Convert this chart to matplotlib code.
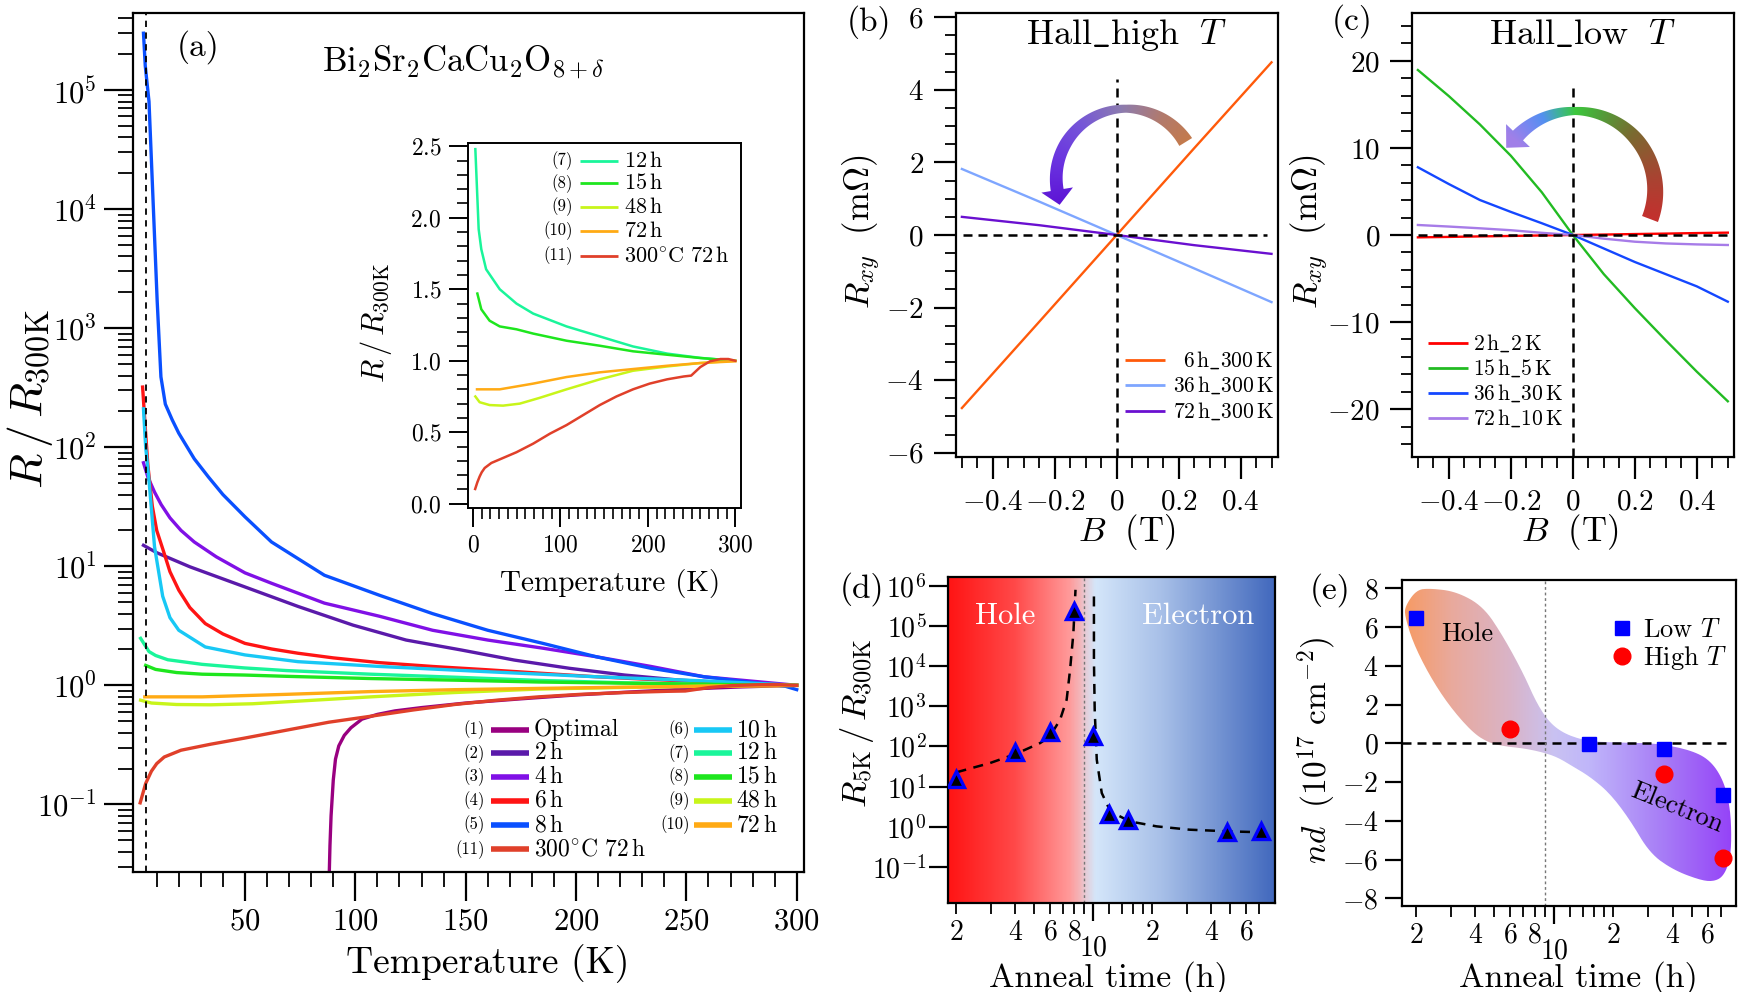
import numpy as np
import matplotlib
matplotlib.use("Agg")
import matplotlib.pyplot as plt
from matplotlib.colors import LinearSegmentedColormap, to_rgb
from matplotlib.patches import Polygon
from matplotlib.path import Path
from matplotlib.ticker import (FixedLocator, FixedFormatter, MultipleLocator,
                               FuncFormatter, LogLocator, NullLocator, NullFormatter,
                               LogFormatterSciNotation)

plt.rcParams.update({
    "font.family": "serif",
    "font.serif": ["cmr10"],
    "mathtext.fontset": "cm",
    "axes.formatter.use_mathtext": True,
    "axes.unicode_minus": False,
})

# ---------------- (a) R/R300K vs temperature ----------------
opt_T = [88.2, 88.5, 89, 90, 91, 92.5, 95, 98, 103, 110, 118, 130, 150, 175, 200, 225, 250, 275, 300]
opt_R = [0.027, 0.045, 0.08, 0.16, 0.24, 0.31, 0.38, 0.44, 0.52, 0.57, 0.61, 0.65, 0.71, 0.77, 0.83, 0.88, 0.93, 0.97, 1.0]
h2_T = [4, 10, 25, 50, 74, 99, 123, 148, 172, 197, 222, 246, 271, 300]
h2_R = [15, 13, 9.9, 6.7, 4.6, 3.2, 2.4, 1.98, 1.63, 1.39, 1.22, 1.11, 1.04, 1.0]
h4_T = [4, 6, 9, 12, 16, 21, 27, 37, 50, 62, 86, 111, 135, 160, 185, 209, 234, 258, 283, 300]
h4_R = [74, 56, 42, 33, 25.5, 20, 16, 12, 8.8, 7.2, 4.9, 3.8, 2.9, 2.4, 2.05, 1.74, 1.44, 1.18, 1.07, 1.0]
h6_T = [3.6, 5, 6, 8, 10, 13, 16, 20, 25, 32, 40, 50, 62, 74, 90, 111, 135, 160, 185, 209, 234, 258, 300]
h6_R = [320, 130, 70, 32, 20, 13.5, 9, 6.3, 4.5, 3.3, 2.7, 2.25, 2.02, 1.86, 1.70, 1.55, 1.44, 1.35, 1.26, 1.18, 1.12, 1.07, 1.0]
h8_T = [4, 4.8, 6.5, 7.7, 10.2, 11.9, 13.9, 17, 20, 27, 33.5, 40, 50, 62, 86, 111, 135, 160, 185, 209, 234, 258, 283, 295, 300]
h8_R = [3e5, 1.6e5, 8e4, 2.3e4, 1.7e3, 390, 230, 170, 131, 80, 56, 40, 26, 16, 8.4, 5.7, 4.0, 2.9, 2.25, 1.74, 1.39, 1.18, 1.04, 0.98, 0.92]
h10_T = [4, 5, 6.5, 9, 12.7, 16, 20, 32, 50, 74, 111, 160, 209, 258, 300]
h10_R = [210, 100, 53, 14.6, 5.6, 3.7, 2.9, 2.1, 1.8, 1.58, 1.44, 1.30, 1.18, 1.09, 1.0]
h12_T = [2.7, 6.5, 9.5, 15, 30.6, 49.7, 68.8, 107, 145, 183, 222, 260, 298]
h12_R = [2.48, 1.92, 1.78, 1.64, 1.50, 1.40, 1.33, 1.24, 1.17, 1.10, 1.05, 1.02, 1.0]
h15_T = [5, 9.5, 19, 30.6, 49.7, 68.8, 107, 145, 183, 222, 260, 300]
h15_R = [1.47, 1.36, 1.28, 1.24, 1.22, 1.19, 1.14, 1.105, 1.066, 1.042, 1.019, 1.0]
h48_T = [2.7, 7.6, 19, 34.4, 53.5, 76, 107, 145, 183, 222, 260, 300]
h48_R = [0.75, 0.71, 0.69, 0.686, 0.70, 0.74, 0.80, 0.87, 0.93, 0.96, 0.984, 1.0]
h72_T = [4.6, 30.6, 49.7, 68.8, 107, 145, 183, 222, 260, 300]
h72_R = [0.80, 0.80, 0.82, 0.84, 0.886, 0.919, 0.942, 0.965, 0.984, 0.996]
c300_T = [2.5, 5, 7.6, 10, 13.4, 21, 34.4, 49.7, 68.8, 88, 107, 126, 145, 164, 183, 202, 222, 241, 249.5, 260, 271, 283, 292, 300]
c300_R = [0.103, 0.15, 0.19, 0.22, 0.25, 0.285, 0.32, 0.36, 0.42, 0.49, 0.55, 0.62, 0.69, 0.75, 0.80, 0.84, 0.87, 0.89, 0.896, 0.956, 0.996, 1.012, 1.012, 1.0]

labels_a = ["Optimal", r"$\mathrm{2\,h}$", r"$\mathrm{4\,h}$", r"$\mathrm{6\,h}$", r"$\mathrm{8\,h}$",
            r"$\mathrm{10\,h}$", r"$\mathrm{12\,h}$", r"$\mathrm{15\,h}$", r"$\mathrm{48\,h}$",
            r"$\mathrm{72\,h}$", r"$300^{\circ}\mathrm{C}\ 72\,\mathrm{h}$"]
colors_a = ["#990080", "#5a1aaa", "#8010e6", "#ff1414", "#0a50ff", "#18c8f5",
            "#1af59a", "#1ee61e", "#c8f51a", "#ffaa14", "#e0402a"]
curves_a = [(opt_T, opt_R), (h2_T, h2_R), (h4_T, h4_R), (h6_T, h6_R), (h8_T, h8_R),
            (h10_T, h10_R), (h12_T, h12_R), (h15_T, h15_R), (h48_T, h48_R),
            (h72_T, h72_R), (c300_T, c300_R)]
inset_idx = [6, 7, 8, 9, 10]

# ---------------- (b), (c) Hall ----------------
b_high = [-0.5, -0.25, 0, 0.25, 0.5]
rxy_6h = [-4.77, -2.39, 0, 2.39, 4.76]
rxy_36h = [1.82, 0.92, 0, -0.92, -1.85]
rxy_72h = [0.50, 0.27, 0, -0.28, -0.52]
labels_b = [r"$\mathrm{6\,h\_300\,K}$", r"$\mathrm{36\,h\_300\,K}$", r"$\mathrm{72\,h\_300\,K}$"]
colors_b = ["#ff5a0a", "#7ea6ff", "#6a10d0"]

b_low = [-0.5, -0.4, -0.3, -0.2, -0.1, 0, 0.1, 0.2, 0.3, 0.4, 0.5]
rxy_2h = [-0.27, -0.22, -0.16, -0.11, -0.05, 0, 0.05, 0.11, 0.16, 0.22, 0.27]
rxy_15h = [18.95, 15.95, 12.7, 9.1, 4.9, 0, -4.5, -8.4, -12.1, -15.7, -19.1]
rxy_36h_lo = [7.78, 5.85, 4.02, 2.65, 1.35, 0, -1.55, -3.1, -4.5, -5.9, -7.66]
rxy_72h_lo = [1.15, 0.97, 0.77, 0.55, 0.25, 0, -0.42, -0.77, -0.97, -1.08, -1.15]
labels_c = [r"$\mathrm{2\,h\_2\,K}$", r"$\mathrm{15\,h\_5\,K}$", r"$\mathrm{36\,h\_30\,K}$", r"$\mathrm{72\,h\_10\,K}$"]
colors_c = ["#ff0000", "#22bb22", "#1447ff", "#a77ce8"]

# ---------------- (d) R5K/R300K vs anneal time ----------------
anneal_h = [2, 4, 6, 8, 10, 12, 15, 48, 72]
r5k_ratio = [15.8, 73, 233, 2.4e5, 186, 2.13, 1.51, 0.76, 0.80]
fit_hole_t = [2.0, 2.97, 4.01, 5.35, 6.0, 6.76, 7.3, 7.6, 7.9, 8.1]
fit_hole_r = [22.8, 38.8, 65, 122, 179, 465, 1460, 8130, 6.6e4, 7.9e5]
fit_elec_t = [10.06, 10.06, 10.15, 10.4, 11.03, 12.2, 15.3, 21.0, 30.9, 48.9, 73.6]
fit_elec_r = [5.4e5, 1.45e4, 822, 47, 6.95, 2.43, 1.37, 1.03, 0.851, 0.774, 0.731]

# ---------------- (e) nd vs anneal time ----------------
lowT_t = [2, 15, 36, 72]
lowT_nd = [6.45, -0.05, -0.29, -2.67]
highT_t = [6, 36, 72]
highT_nd = [0.72, -1.6, -5.9]
blob_t = [1.76, 2.01, 2.36, 3.21, 4.39, 5.54, 7.0, 8.17, 9.55, 11.6, 15.2, 22.4, 33.1, 48.9, 61.7,
          72.1, 78, 79.4, 78, 72.1, 64.1, 54.9, 40.3, 30.6, 24.3, 19.2, 15.2, 12.5, 10.3, 8.49,
          7.0, 5.75, 4.74, 3.9, 2.97, 2.36, 1.94, 1.76]
blob_nd = [7.06, 7.92, 8.0, 7.83, 7.06, 5.51, 3.61, 2.07, 1.03, 0.43, 0.09, 0.03, 0.0, -0.34, -0.86,
           -1.89, -3.27, -4.82, -6.02, -6.88, -7.14, -7.06, -6.54, -5.68, -3.96, -2.58, -1.72, -1.2,
           -0.69, -0.43, -0.26, -0.17, 0.0, 0.52, 1.89, 3.44, 5.16, 6.54]

W, H = 1738, 992
fig = plt.figure(figsize=(W / 100, H / 100), dpi=100)


def rect(l, t, r, b):
    return [l / W, 1 - b / H, (r - l) / W, (b - t) / H]


def frame(ax, lw=1.6):
    for s in ax.spines.values():
        s.set_linewidth(lw)
    ax.tick_params(which="both", direction="out", top=False, right=False)


def gfmt(v, p):
    return "$%g$" % (round(v, 6) + 0.0)


def place_labels(ax, box, xl, yl):
    l, t, r, b = box
    ax.xaxis.set_label_coords((xl[0] - l) / (r - l), (b - xl[1]) / (b - t))
    ax.yaxis.set_label_coords((yl[0] - l) / (r - l), (b - yl[1]) / (b - t))
    ax.xaxis.label.set_va("center")
    ax.yaxis.label.set_va("center")


def legend_row(ax, fy, x0, x1, xt, color, label, lw, fs, num=None, xn=None, fsn=12, ha="left"):
    ax.plot([x0, x1], [fy, fy], transform=ax.transAxes, color=color, lw=lw, solid_capstyle="butt")
    ax.text(xt, fy, label, transform=ax.transAxes, ha=ha, va="center", fontsize=fs)
    if num is not None:
        ax.text(xn, fy, num, transform=ax.transAxes, ha="right", va="center", fontsize=fsn)


def gradient_cmap(stops):
    return LinearSegmentedColormap.from_list("g", stops)


def curved_arrow(box, center, r, th0, th1, widths, head_w, head_len, stops):
    l, t, rr, b = box
    w, h = int(round(rr - l)), int(round(b - t))
    ov = fig.add_axes(rect(l, t, rr, b), zorder=3)
    ov.set_axis_off()
    cx, cy = center
    th = np.linspace(th0, th1, 90)
    wd = np.interp(th, [q[0] for q in widths], [q[1] for q in widths])
    rad = np.radians(th)
    outer = np.c_[cx + (r + wd / 2) * np.cos(rad), cy + (r + wd / 2) * np.sin(rad)]
    inner = np.c_[cx + (r - wd / 2) * np.cos(rad), cy + (r - wd / 2) * np.sin(rad)]
    a1 = np.radians(th1)
    u = np.array([np.cos(a1), np.sin(a1)])
    tv = np.array([-np.sin(a1), np.cos(a1)])
    base = np.array([cx, cy]) + r * u
    tip = base + head_len * tv
    verts = np.vstack([outer, base + head_w / 2 * u, tip, base - head_w / 2 * u, inner[::-1]])
    X, Y = np.meshgrid(np.arange(w) + 0.5, np.arange(h) + 0.5)
    phi = np.degrees(np.arctan2(Y - cy, X - cx))
    phi = (phi - (th0 - 90)) % 360 + (th0 - 90)
    sa = [s[0] for s in stops]
    rgb = np.array([to_rgb(s[1]) for s in stops])
    img = np.dstack([np.interp(phi, sa, rgb[:, k]) for k in range(3)])
    im = ov.imshow(img, origin="lower", extent=(0, w, 0, h), aspect="auto", interpolation="bilinear")
    ov.set_xlim(0, w)
    ov.set_ylim(0, h)
    im.set_clip_path(Polygon(verts, closed=True, transform=ov.transData))


# ======================= panel (a) =======================
box_a = (133, 13, 804, 872)
ax_a = fig.add_axes(rect(*box_a))
frame(ax_a)
ax_a.set_yscale("log")
for (T, R), c in zip(curves_a, colors_a):
    ax_a.plot(T, R, color=c, lw=2.4)
ax_a.axvline(5, color="k", lw=1.3, ls=(0, (3.5, 3)))
ax_a.set_xlim(-0.75, 303.3)
ax_a.set_ylim(10 ** -1.568, 10 ** 5.647)
ax_a.xaxis.set_major_locator(FixedLocator([50, 100, 150, 200, 250, 300]))
ax_a.xaxis.set_minor_locator(FixedLocator([t for t in range(10, 300, 10) if t % 50]))
ax_a.xaxis.set_major_formatter(FuncFormatter(gfmt))
ax_a.yaxis.set_major_locator(FixedLocator([10.0 ** k for k in range(-1, 6)]))
ax_a.yaxis.set_major_formatter(LogFormatterSciNotation())
ax_a.yaxis.set_minor_locator(FixedLocator([m * 10.0 ** k for k in range(-2, 6) for m in range(2, 10)
                                           if 0.027 < m * 10.0 ** k < 4.4e5]))
ax_a.yaxis.set_minor_formatter(NullFormatter())
ax_a.tick_params(which="major", length=21, width=1.6, labelsize=22, pad=5)
ax_a.tick_params(which="minor", length=11, width=1.3)
ax_a.set_xlabel("Temperature (K)", fontsize=27)
ax_a.set_ylabel(r"$R\,/\,R_{300\mathrm{K}}$", fontsize=33)
place_labels(ax_a, box_a, (488, 964), (30, 399))

rows_a = [0.1653, 0.1382, 0.1110, 0.0830, 0.0547]
for i in range(5):
    legend_row(ax_a, rows_a[i], 0.533, 0.590, 0.597, colors_a[i], labels_a[i], 4, 17,
               "(%d)" % (i + 1), 0.5246)
    legend_row(ax_a, rows_a[i], 0.836, 0.892, 0.899, colors_a[i + 5], labels_a[i + 5], 4, 17,
               "(%d)" % (i + 6), 0.830)
legend_row(ax_a, 0.0264, 0.533, 0.590, 0.597, colors_a[10], labels_a[10], 4, 17, "(11)", 0.5246)

fig.text(198 / W, 1 - 47 / H, "(a)", fontsize=24, ha="center", va="center")
fig.text(463 / W, 1 - 62 / H, r"$\mathrm{Bi_2Sr_2CaCu_2O_{8+\delta}}$", fontsize=25,
         ha="center", va="center")

# inset
box_in = (468, 143, 741, 508)
ax_in = fig.add_axes(rect(*box_in))
frame(ax_in, 1.4)
for i in inset_idx:
    ax_in.plot(curves_a[i][0], curves_a[i][1], color=colors_a[i], lw=1.8)
ax_in.set_xlim(-5.7, 306.5)
ax_in.set_ylim(-0.03, 2.523)
ax_in.xaxis.set_major_locator(MultipleLocator(100))
ax_in.xaxis.set_minor_locator(MultipleLocator(10))
ax_in.yaxis.set_major_locator(MultipleLocator(0.5))
ax_in.yaxis.set_minor_locator(MultipleLocator(0.1))
ax_in.xaxis.set_major_formatter(FuncFormatter(gfmt))
ax_in.yaxis.set_major_formatter(FuncFormatter(lambda v, p: "$%.1f$" % (round(v, 3) + 0.0)))
ax_in.tick_params(which="major", length=14, width=1.4, labelsize=17, pad=5)
ax_in.tick_params(which="minor", length=8, width=1.2)
ax_in.set_xlabel("Temperature (K)", fontsize=21)
ax_in.set_ylabel(r"$R\,/\,R_{300\mathrm{K}}$", fontsize=22)
place_labels(ax_in, box_in, (610, 583), (376, 323))
rows_in = [0.9515, 0.8896, 0.8255, 0.7597, 0.6904]
for k, i in enumerate(inset_idx):
    legend_row(ax_in, rows_in[k], 0.410, 0.5505, 0.5714, colors_a[i], labels_a[i], 2, 16,
               "(%d)" % (i + 1), 0.3835, fsn=12)

# ======================= panel (b) =======================
box_b = (955.7, 13, 1277.7, 457)
ax_b = fig.add_axes(rect(*box_b))
frame(ax_b)
for y, c in zip([rxy_6h, rxy_36h, rxy_72h], colors_b):
    ax_b.plot(b_high, y, color=c, lw=1.7)
ax_b.set_xlim(-0.52, 0.52)
ax_b.set_ylim(-6.12, 6.12)
ax_b.axvline(0, ymax=(4.29 + 6.12) / 12.24, color="k", lw=1.8, ls=(0, (3.6, 2.4)))
ax_b.axhline(0, xmin=0.022, xmax=0.967, color="k", lw=1.8, ls=(0, (3.6, 2.4)))
ax_b.xaxis.set_major_locator(MultipleLocator(0.2))
ax_b.xaxis.set_minor_locator(MultipleLocator(0.05))
ax_b.yaxis.set_major_locator(MultipleLocator(2))
ax_b.yaxis.set_minor_locator(MultipleLocator(0.5))
ax_b.xaxis.set_major_formatter(FuncFormatter(gfmt))
ax_b.yaxis.set_major_formatter(FuncFormatter(gfmt))
ax_b.tick_params(which="major", length=16, width=1.6, labelsize=21, pad=7)
ax_b.tick_params(which="minor", length=8, width=1.3)
ax_b.set_xlabel(r"$B\ \ (\mathrm{T})$", fontsize=25)
ax_b.set_ylabel(r"$R_{xy}\ \ (\mathrm{m}\Omega)$", fontsize=25)
place_labels(ax_b, box_b, (1127, 532), (862, 232))
ax_b.text(0.53, 0.95, r"$\mathrm{Hall\_high}\ \ T$", transform=ax_b.transAxes, fontsize=26,
          ha="center", va="center")
for fy, c, lab in zip([0.2176, 0.1613, 0.1036], colors_b, labels_b):
    legend_row(ax_b, fy, 0.5258, 0.65, 0.988, c, lab, 2, 15.5, ha="right")
fig.text(869 / W, 1 - 22 / H, "(b)", fontsize=24, ha="center", va="center")

curved_arrow(box_b, (170.45, 278.4), 69.9, 31.6, 189.4,
             [(31.6, 15), (90, 8), (150, 12), (189.4, 13)], 32, 15,
             [(31.6, "#c47a4c"), (60, "#b27a6c"), (95, "#8c7cb0"), (130, "#7656d8"),
              (165, "#6a34e0"), (205, "#5c10d4")])

# ======================= panel (c) =======================
box_c = (1412, 13, 1734, 457)
ax_c = fig.add_axes(rect(*box_c))
frame(ax_c)
for y, c in zip([rxy_2h, rxy_15h, rxy_36h_lo, rxy_72h_lo], colors_c):
    ax_c.plot(b_low, y, color=c, lw=1.7)
ax_c.set_xlim(-0.519, 0.52)
ax_c.set_ylim(-25.5, 25.5)
ax_c.axvline(0, ymax=(16.9 + 25.5) / 51, color="k", lw=1.8, ls=(0, (3.6, 2.4)))
ax_c.axhline(0, xmin=0.02, xmax=0.983, color="k", lw=1.8, ls=(0, (3.6, 2.4)))
ax_c.xaxis.set_major_locator(MultipleLocator(0.2))
ax_c.xaxis.set_minor_locator(MultipleLocator(0.05))
ax_c.yaxis.set_major_locator(MultipleLocator(10))
ax_c.yaxis.set_minor_locator(MultipleLocator(2))
ax_c.xaxis.set_major_formatter(FuncFormatter(gfmt))
ax_c.yaxis.set_major_formatter(FuncFormatter(gfmt))
ax_c.tick_params(which="major", length=16, width=1.6, labelsize=21, pad=7)
ax_c.tick_params(which="minor", length=8, width=1.3)
ax_c.set_xlabel(r"$B\ \ (\mathrm{T})$", fontsize=25)
ax_c.set_ylabel(r"$R_{xy}\ \ (\mathrm{m}\Omega)$", fontsize=25)
place_labels(ax_c, box_c, (1570, 532), (1310, 232))
ax_c.text(0.53, 0.95, r"$\mathrm{Hall\_low}\ \ T$", transform=ax_c.transAxes, fontsize=26,
          ha="center", va="center")
for fy, c, lab in zip([0.2568, 0.2005, 0.1441, 0.0878], colors_c, labels_c):
    legend_row(ax_c, fy, 0.0497, 0.1739, 0.189, c, lab, 2, 15.5)
fig.text(1352 / W, 1 - 21 / H, "(c)", fontsize=24, ha="center", va="center")

curved_arrow(box_c, (163.5, 266.3), 79.7, -20.8, 136.2,
             [(-20.8, 17), (40, 14), (90, 8), (136.2, 14)], 33, 17,
             [(-20.8, "#c4302e"), (10, "#a84432"), (45, "#7a6a30"), (72, "#50a03a"),
              (90, "#3cc83c"), (103, "#40b0a0"), (114, "#5490f0"), (128, "#7c86f0"),
              (140, "#a080e8"), (160, "#a47ce8")])

# ======================= panel (d) =======================
box_d = (948, 577, 1275, 903)
bg_d = fig.add_axes(rect(*box_d), zorder=0)
cmap_d = gradient_cmap([(0, "#ff1414"), (0.2, "#ff4848"), (0.37, "#ff9a9a"), (0.40, "#f4b4b8"),
                        (0.425, "#e2d2de"), (0.45, "#d4e6fa"), (0.65, "#a8c0e8"), (1.0, "#4168bd")])
bg_d.imshow(np.linspace(0, 1, 600)[None, :], cmap=cmap_d, aspect="auto", extent=(0, 1, 0, 1),
            interpolation="bilinear")
bg_d.set_axis_off()

ax_d = fig.add_axes(rect(*box_d), zorder=1)
ax_d.patch.set_visible(False)
frame(ax_d)
ax_d.set_xscale("log")
ax_d.set_yscale("log")
ax_d.axvline(9.0, color="#777777", lw=1.0, ls=(0, (2, 2)))
ax_d.plot(fit_hole_t, fit_hole_r, color="k", lw=1.8, ls=(0, (4, 3)))
ax_d.plot(fit_elec_t, fit_elec_r, color="k", lw=1.8, ls=(0, (4, 3)))
ax_d.plot(anneal_h, r5k_ratio, ls="none", marker="^", ms=11, mfc="k", mec="#0000ff", mew=2.4, zorder=5)
ax_d.set_xlim(1.81, 84.5)
ax_d.set_ylim(10 ** -1.894, 10 ** 6.216)
ax_d.yaxis.set_major_locator(FixedLocator([10.0 ** k for k in range(-1, 7)]))
ax_d.yaxis.set_major_formatter(LogFormatterSciNotation())
ax_d.yaxis.set_minor_locator(NullLocator())

minor_t = [2, 3, 4, 5, 6, 7, 8, 9, 12, 14, 16, 18, 20, 30, 40, 50, 60, 70]
minor_lab = ["2", "", "4", "", "6", "", "8", "", "", "", "", "", "2", "", "4", "", "6", ""]


def anneal_xaxis(ax):
    ax.xaxis.set_major_locator(FixedLocator([10]))
    ax.xaxis.set_major_formatter(FixedFormatter([r"$10$"]))
    ax.xaxis.set_minor_locator(FixedLocator(minor_t))
    ax.xaxis.set_minor_formatter(FixedFormatter(["$%s$" % s if s else "" for s in minor_lab]))
    ax.tick_params(axis="x", which="major", length=13, width=1.6, labelsize=20, pad=10)
    ax.tick_params(axis="x", which="minor", length=8, width=1.3, labelsize=20, pad=4)


anneal_xaxis(ax_d)
ax_d.tick_params(axis="y", which="major", length=14, width=1.6, labelsize=20, pad=1.5)
ax_d.set_xlabel("Anneal time (h)", fontsize=24.5)
ax_d.set_ylabel(r"$R_{5\mathrm{K}}\,/\,R_{300\mathrm{K}}$", fontsize=25)
place_labels(ax_d, box_d, (1108, 978), (857, 723))
ax_d.text(0.174, 0.88, "Hole", transform=ax_d.transAxes, color="white", fontsize=22,
          ha="center", va="center")
ax_d.text(0.766, 0.88, "Electron", transform=ax_d.transAxes, color="white", fontsize=22,
          ha="center", va="center")
fig.text(862 / W, 1 - 589 / H, "(d)", fontsize=24, ha="center", va="center")

# ======================= panel (e) =======================
box_e = (1402, 580, 1736, 906)
bg_e = fig.add_axes(rect(*box_e), zorder=0)
cmap_e = gradient_cmap([(0, "#f79a62"), (0.146, "#e9a99c"), (0.324, "#d9b4c8"), (0.455, "#c9c2f2"),
                        (0.56, "#c0b6fa"), (0.784, "#a77cf6"), (1.0, "#9440f8")])
im_e = bg_e.imshow(np.linspace(0, 1, 600)[None, :], cmap=cmap_e, aspect="auto",
                   extent=(0, 1, 0, 1), interpolation="bilinear")
bg_e.set_axis_off()

ax_e = fig.add_axes(rect(*box_e), zorder=1)
ax_e.patch.set_visible(False)
frame(ax_e)
ax_e.set_xscale("log")
ax_e.set_xlim(1.70, 83.6)
ax_e.set_ylim(-8.40, 8.43)

pts = np.c_[np.log10(blob_t), blob_nd]
for _ in range(3):
    nxt = np.roll(pts, -1, axis=0)
    q, r_ = 0.75 * pts + 0.25 * nxt, 0.25 * pts + 0.75 * nxt
    pts = np.empty((2 * len(q), 2))
    pts[0::2], pts[1::2] = q, r_
blob_path = Path(np.c_[10 ** pts[:, 0], pts[:, 1]], closed=False)
im_e.set_clip_path(blob_path, ax_e.transData)

ax_e.axhline(0, xmin=0, xmax=0.97, color="k", lw=1.8, ls=(0, (3.6, 2.4)))
ax_e.axvline(9.0, color="#777777", lw=1.0, ls=(0, (2, 2)))
ax_e.plot(lowT_t, lowT_nd, ls="none", marker="s", ms=10.5, color="#0000ff", label=r"Low $T$")
ax_e.plot(highT_t, highT_nd, ls="none", marker="o", ms=12, color="#ff0000", label=r"High $T$")
ax_e.yaxis.set_major_locator(MultipleLocator(2))
ax_e.yaxis.set_major_formatter(FuncFormatter(gfmt))
anneal_xaxis(ax_e)
ax_e.tick_params(axis="y", which="major", length=12, width=1.6, labelsize=20, pad=5)
ax_e.set_xlabel("Anneal time (h)", fontsize=24.5)
ax_e.set_ylabel(r"$nd\ \ (10^{17}\ \mathrm{cm}^{-2})$", fontsize=24)
place_labels(ax_e, box_e, (1578, 978), (1317, 750))
ax_e.legend(loc="center right", bbox_to_anchor=(0.975, 0.80), frameon=False, fontsize=19,
            handlelength=0.8, handletextpad=0.4, labelspacing=0.1, borderpad=0, borderaxespad=0)
ax_e.text(0.195, 0.834, "Hole", transform=ax_e.transAxes, fontsize=19, ha="center", va="center")
ax_e.text(0.823, 0.30, "Electron", transform=ax_e.transAxes, fontsize=19, ha="center", va="center",
          rotation=-22)
fig.text(1330 / W, 1 - 590 / H, "(e)", fontsize=24, ha="center", va="center")

fig.savefig("out.png", dpi=100)
